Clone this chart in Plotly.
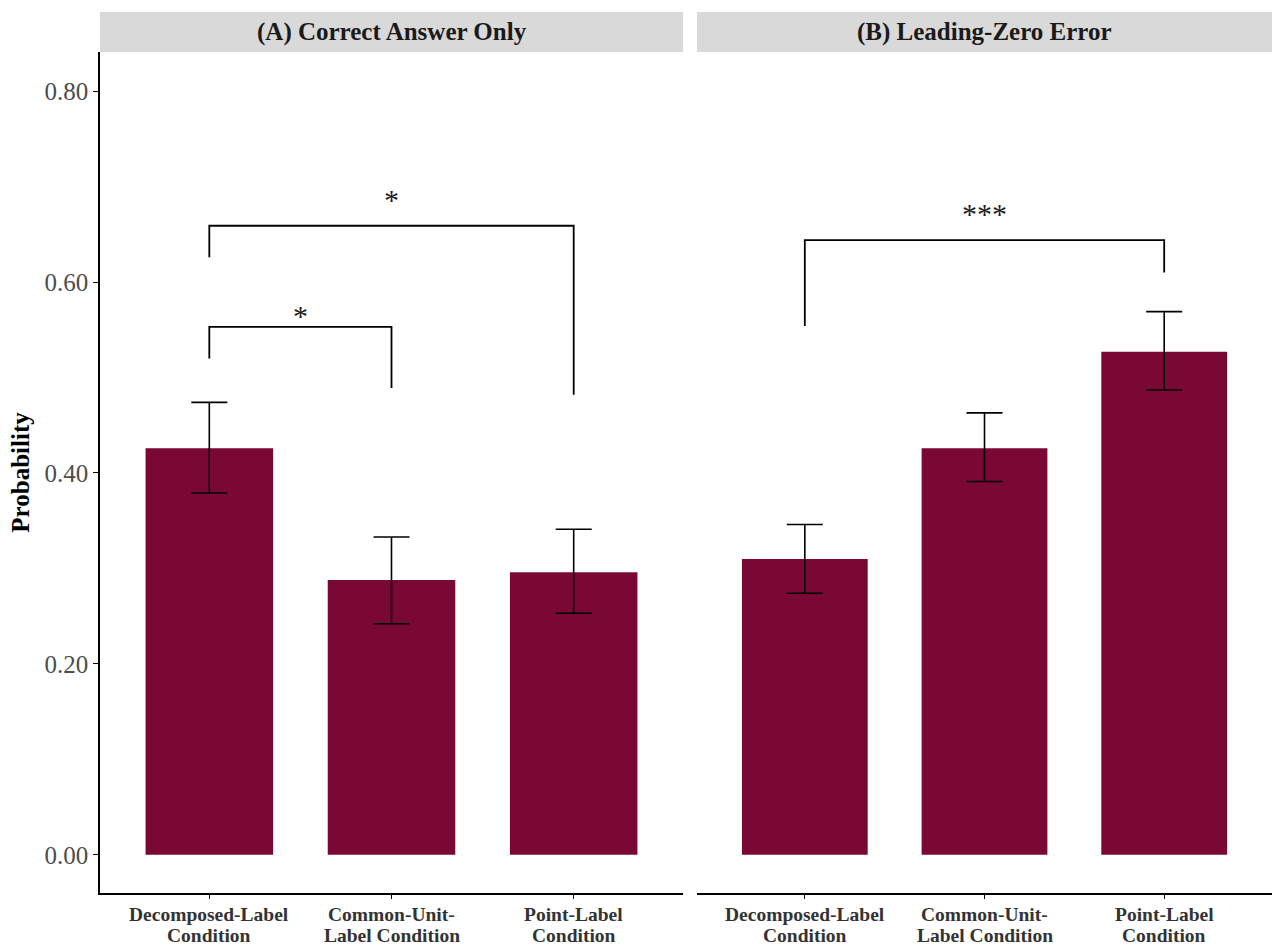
import plotly.graph_objects as go

# Condition labels, split into the two lines shown under each bar
label_line1 = ["Decomposed-Label", "Common-Unit-", "Point-Label"]
label_line2 = ["Condition", "Label Condition", "Condition"]
conditions = [a + " " + b for a, b in zip(label_line1, label_line2)]

# Estimated probabilities with 95% CI bounds
correct_prob = [0.426, 0.288, 0.296]
correct_hi = [0.474, 0.333, 0.341]
correct_lo = [0.379, 0.242, 0.253]

zero_prob = [0.310, 0.426, 0.527]
zero_hi = [0.346, 0.463, 0.569]
zero_lo = [0.274, 0.391, 0.487]

panel_titles = ["(A) Correct Answer Only", "(B) Leading-Zero Error"]

# Significance brackets: (panel, left index, right index, top, left-leg end, right-leg end, label, label y)
brackets = [
    (0, 0, 2, 0.659, 0.626, 0.482, "*", 0.687),
    (0, 0, 1, 0.553, 0.520, 0.489, "*", 0.565),
    (1, 0, 2, 0.644, 0.554, 0.610, "***", 0.672),
]

y_ticks = [0.0, 0.2, 0.4, 0.6, 0.8]
y_tick_text = ["0.00", "0.20", "0.40", "0.60", "0.80"]

BAR = "#7A0834"
FONT = "Liberation Serif"
W, H = 1276, 947

fig = go.Figure()

panels = [
    (correct_prob, correct_hi, correct_lo, "x", "y"),
    (zero_prob, zero_hi, zero_lo, "x2", "y2"),
]
for vals, hi, lo, xa, ya in panels:
    fig.add_trace(go.Bar(
        x=conditions, y=vals, xaxis=xa, yaxis=ya, width=0.7,
        marker=dict(color=BAR, line=dict(width=0)),
        error_y=dict(type="data", symmetric=False,
                     array=[h - v for h, v in zip(hi, vals)],
                     arrayminus=[v - l for v, l in zip(vals, lo)],
                     color="black", thickness=1.6, width=18),
        showlegend=False,
    ))

for panel, i, j, top, left_end, right_end, label, label_y in brackets:
    xa, ya = ("x", "y") if panel == 0 else ("x2", "y2")
    xs = [conditions[i], conditions[i], conditions[j], conditions[j]]
    ys = [left_end, top, top, right_end]
    fig.add_trace(go.Scatter(x=xs, y=ys, xaxis=xa, yaxis=ya, mode="lines",
                             line=dict(color="black", width=1.8),
                             showlegend=False, hoverinfo="skip"))
    fig.add_annotation(x=(i + j) / 2, y=label_y, xref=xa, yref=ya, text=label,
                       xanchor="center", yanchor="middle", showarrow=False,
                       font=dict(family=FONT, size=30, color="#1A1A1A"))

# Two-line category labels below each panel's x axis
for xa in ("x", "x2"):
    for k, (l1, l2) in enumerate(zip(label_line1, label_line2)):
        for text, ypx in ((l1, 914), (l2, 935)):
            fig.add_annotation(x=k, y=1 - ypx / H, xref=xa, yref="paper",
                               text=f"<b>{text}</b>", xanchor="center", yanchor="middle",
                               showarrow=False,
                               font=dict(family=FONT, size=19.5, color="#333333"))

y_range = [-0.04, 0.841]
left_dom = [100 / W, 683 / W]
right_dom = [697 / W, 1272 / W]
y_dom = [1 - 893 / H, 1 - 52 / H]

xaxis_common = dict(
    type="category", range=[-0.6, 2.6], showline=True, linecolor="black", linewidth=1.6,
    ticks="outside", ticklen=4, tickcolor="black", tickwidth=1.2, automargin=False,
    showticklabels=False, showgrid=False, zeroline=False,
)
fig.update_layout(
    width=W, height=H,
    margin=dict(l=0, r=0, t=0, b=0),
    paper_bgcolor="white", plot_bgcolor="white",
    font=dict(family=FONT),
    xaxis=dict(domain=left_dom, anchor="y", **xaxis_common),
    xaxis2=dict(domain=right_dom, anchor="y2", **xaxis_common),
    yaxis=dict(domain=y_dom, range=y_range, anchor="x", tickvals=y_ticks, ticktext=y_tick_text,
               showline=True, linecolor="black", linewidth=1.6, ticks="outside", ticklen=5,
               tickcolor="black", tickwidth=1.2, showgrid=False, zeroline=False, automargin=False,
               tickfont=dict(family=FONT, size=25, color="#4D4D4D"),
               title=dict(text="<b>Probability</b>", font=dict(family=FONT, size=25, color="black"),
                          standoff=8)),
    yaxis2=dict(domain=y_dom, range=y_range, anchor="x2", matches="y", showline=False,
                showticklabels=False, ticks="", showgrid=False, zeroline=False, automargin=False),
)

# Facet strips
for dom, title in zip([left_dom, right_dom], panel_titles):
    fig.add_shape(type="rect", xref="paper", yref="paper",
                  x0=dom[0], x1=dom[1], y0=1 - 52 / H, y1=1 - 12 / H,
                  fillcolor="#D9D9D9", line=dict(width=0), layer="below")
    fig.add_annotation(xref="paper", yref="paper", x=(dom[0] + dom[1]) / 2,
                       y=1 - 32 / H, xanchor="center", yanchor="middle",
                       text=f"<b>{title}</b>", showarrow=False,
                       font=dict(family=FONT, size=25, color="#1A1A1A"))

fig.write_html("out.html")
